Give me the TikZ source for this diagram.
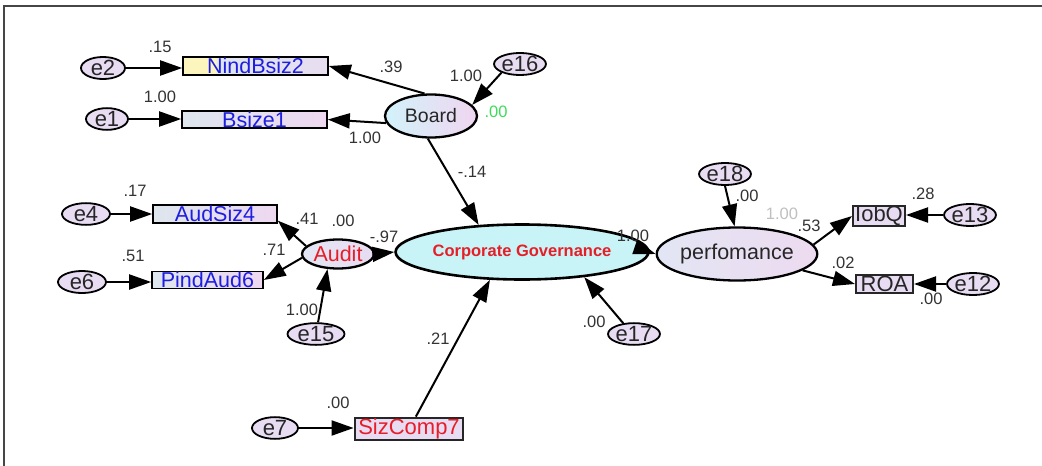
\documentclass[tikz,border=0pt]{standalone}
\usepackage{fontspec}
\setmainfont{Liberation Sans}
\usetikzlibrary{arrows.meta,shapes.geometric}
\definecolor{txtblue}{RGB}{30,30,225}
\definecolor{txtred}{RGB}{230,30,40}
\definecolor{boxl}{RGB}{222,230,238}
\definecolor{boxr}{RGB}{238,216,240}
\definecolor{elfill}{RGB}{232,220,242}
\definecolor{cgfill}{RGB}{200,244,247}
\definecolor{boardl}{RGB}{210,242,250}
\definecolor{boardr}{RGB}{240,214,240}
\definecolor{perfl}{RGB}{226,230,244}
\definecolor{perfr}{RGB}{238,218,240}
\definecolor{yel}{RGB}{252,246,190}
\definecolor{greenlbl}{RGB}{60,220,90}
\definecolor{framec}{RGB}{70,70,70}
\pgfdeclarehorizontalshading{nindshade}{100bp}{color(0bp)=(yel); color(36bp)=(yel); color(37bp)=(boxl); color(100bp)=(boxr)}
\tikzset{
  obs/.style={rectangle, draw=black, line width=1.6pt, inner sep=0pt, left color=boxl, right color=boxr, font=\fontsize{21.5}{21.5}\selectfont, text=txtblue},
  obsdark/.style={rectangle, draw=black!85, line width=2pt, inner sep=0pt, fill=elfill, font=\fontsize{22}{22}\selectfont, text=black!85},
  err/.style={ellipse, draw=black, line width=1.8pt, inner sep=0pt, fill=elfill, font=\fontsize{22}{22}\selectfont, text=black!85},
  lat/.style={ellipse, draw=black, line width=2.3pt, inner sep=0pt},
  lbl/.style={inner sep=0pt, font=\fontsize{16.5}{16.5}\selectfont, text=black!80},
  arr/.style={-{Triangle[length=22pt,width=15pt]}, line width=2pt}
}
\begin{document}
\begin{tikzpicture}[x=1pt,y=-1pt]
\useasboundingbox (0,0) rectangle (1042,466);
% frame
\coordinate (fa) at (4,466);
\coordinate (fb) at (4,6);
\coordinate (fc) at (1042,6);
\draw[framec, line width=2pt] (fa) -- (fb) -- (fc);

% error terms
\node[err, minimum width=44pt, minimum height=15pt] (e2) at (103,68) {e2};
\node[err, minimum width=42pt, minimum height=14pt] (e1) at (107,119) {e1};
\node[err, minimum width=50pt, minimum height=18pt] (e16) at (520,64) {e16};
\node[err, minimum width=48pt, minimum height=16pt] (e4) at (86,214) {e4};
\node[err, minimum width=48pt, minimum height=15pt] (e6) at (82,282) {e6};
\node[err, minimum width=57pt, minimum height=18pt] (e15) at (316,334) {e15};
\node[err, minimum width=46pt, minimum height=17pt] (e7) at (275,428) {e7};
\node[err, minimum width=48pt, minimum height=18pt] (e17) at (634,334) {e17};
\node[err, minimum width=36pt, minimum height=20pt] (e18) at (725,174) {e18};
\node[err, minimum width=40pt, minimum height=16pt] (e13) at (970,215) {e13};
\node[err, minimum width=47pt, minimum height=17pt] (e12) at (973,284) {e12};

% observed
\node[obs, shading=nindshade, shading angle=0, minimum width=145pt, minimum height=18pt] (nind) at (255.5,66) {NindBsiz2};
\node[obs, minimum width=145pt, minimum height=17pt] (bsize) at (254.5,119.5) {Bsize1};
\node[obs, minimum width=124pt, minimum height=18pt] (aud4) at (215,214) {AudSiz4};
\node[obs, minimum width=111pt, minimum height=17pt] (pind) at (207.5,280) {PindAud6};
\node[obsdark, line width=2.8pt, minimum width=108pt, minimum height=22pt, text=txtred] (sizc) at (409,429) {SizComp7};
\node[obsdark, minimum width=52pt, minimum height=18pt] (iobq) at (879,216) {IobQ};
\node[obsdark, minimum width=57pt, minimum height=18pt] (roa) at (884.5,284) {ROA};

% latent
\node[lat, minimum width=92pt, minimum height=43pt, left color=boardl, right color=boardr, font=\fontsize{19.5}{19.5}\selectfont, text=black!85] (board) at (431,116) {Board};
\node[lat, minimum width=72pt, minimum height=29pt, left color=perfl, right color=elfill, font=\fontsize{21.5}{21.5}\selectfont, text=txtred] (audit) at (338,254) {Audit};
\node[lat, line width=2.6pt, minimum width=200pt, minimum height=55pt, fill=cgfill, font=\bfseries\fontsize{16.5}{16.5}\selectfont, text=txtred] (cg) at (522,252) {Corporate Governance};
\node[lat, minimum width=152pt, minimum height=53pt, left color=perfl, right color=perfr, font=\fontsize{21.5}{21.5}\selectfont, text=black!85] (perf) at (737,254) {perfomance};

% connectors
\draw[arr] (e2.east) -- (e2.east -| nind.west);
\draw[arr] (e1.east) -- (e1.east -| bsize.west);
\draw[arr] (board.106) -- (nind.east);
\draw[arr] (board.189) -- (bsize.east);
\draw[arr] (e16.205) -- (board.15);
\draw[arr] (board.262) -- (cg.148);
\draw[arr] (e4.east) -- (e4.east -| aud4.west);
\draw[arr] (e6.east) -- (e6.east -| pind.west);
\draw[arr] (audit.166) -- (aud4.-6);
\draw[arr] (audit.186) -- (pind.east);
\draw[arr] (e15.80) -- (audit.235);
\draw[arr] (audit.east) -- (cg.west);
\draw[arr] (e7.east) -- (e7.east -| sizc.west);
\draw[arr] (sizc.61) -- (cg.221);
\draw[arr] (e17.135) -- (cg.-22);
\draw[arr] (cg.east) -- (perf.west);
\draw[arr] (e18.south) -- (perf.95);
\draw[arr] (perf.7) -- (iobq.west);
\draw[arr] (perf.-14) -- (roa.west);
\draw[arr] (e13.west) -- (e13.west -| iobq.east);
\draw[arr] (e12.west) -- (e12.west -| roa.east);

% labels
\node[lbl] (l1) at (160,47) {.15};
\node[lbl] (l2) at (160,97) {1.00};
\node[lbl] (l3) at (391,67) {.39};
\node[lbl] (l4) at (365,138) {1.00};
\node[lbl] (l5) at (466,76) {1.00};
\node[lbl, text=greenlbl] (l6) at (496,112) {.00};
\node[lbl] (l7) at (472,172) {-.14};
\node[lbl] (l8) at (135,191) {.17};
\node[lbl] (l9) at (133,256) {.51};
\node[lbl] (l10) at (307,219) {.41};
\node[lbl] (l11) at (343,221) {.00};
\node[lbl] (l12) at (274,250) {.71};
\node[lbl] (l13) at (384,237) {-.97};
\node[lbl] (l14) at (302,310) {1.00};
\node[lbl] (l15) at (438,339) {.21};
\node[lbl] (l16) at (338,403) {.00};
\node[lbl] (l17) at (633,236) {1.00};
\node[lbl] (l18) at (594,322) {.00};
\node[lbl] (l19) at (747,196) {.00};
\node[lbl, text=black!25] (l20) at (782,214) {1.00};
\node[lbl] (l21) at (809,226) {.53};
\node[lbl] (l22) at (923,194) {.28};
\node[lbl] (l23) at (843,263) {.02};
\node[lbl] (l24) at (931,299) {.00};
\end{tikzpicture}
\end{document}
